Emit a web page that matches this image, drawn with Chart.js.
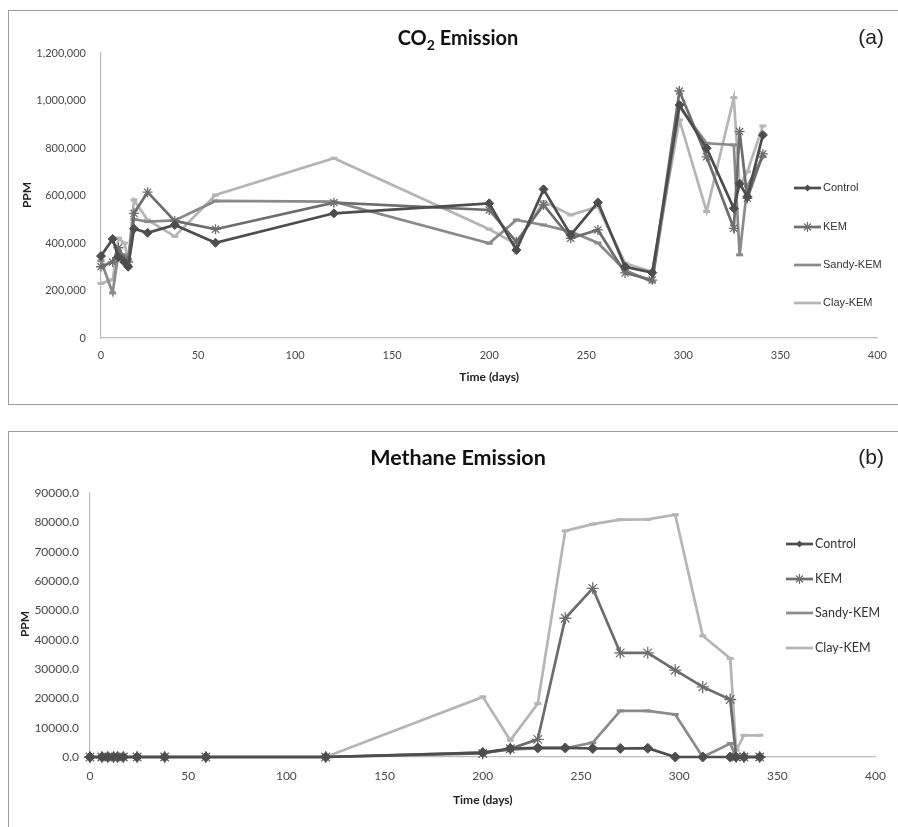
<!DOCTYPE html>
<html lang="en">
<head>
<meta charset="UTF-8">
<title>CO2 and Methane Emission</title>
<script src="https://cdn.jsdelivr.net/npm/chart.js"></script>
<style>
  body { margin: 0; background: #fff; width: 898px; height: 827px; position: relative; overflow: hidden; }
  .frame { position: absolute; border: 1px solid #9c9c9c; }
  canvas { position: absolute; left: 0; }
</style>
</head>
<body>
<div class="frame" style="left:8px; top:10px; width:900px; height:393px;"></div>
<div class="frame" style="left:8px; top:431px; width:900px; height:420px;"></div>
<canvas id="co2Chart" width="898" height="415" style="top:0"></canvas>
<canvas id="ch4Chart" width="898" height="412" style="top:415px"></canvas>

<script>
// sampling days (shared by both panels)
var days = [0, 6, 9, 12, 14, 17, 24, 38, 59, 120, 200, 214, 228, 242, 256, 270, 284, 298, 312, 326, 329, 333, 341]
var seriesNames = ["Control", "KEM", "Sandy-KEM", "Clay-KEM"]

// (a) CO2, ppm
var co2Control = [345000, 417000, 340000, 320000, 300000, 460000, 443000, 476000, 401000, 525000, 567000, 370000, 626000, 434000, 571000, 300000, 275000, 981000, 799000, 546000, 650000, 595000, 855000]
var co2KEM     = [300000, 320000, 380000, 330000, 320000, 525000, 614000, 493000, 458000, 570000, 539000, 405000, 560000, 420000, 455000, 274000, 244000, 1040000, 763000, 462000, 869000, 588000, 775000]
var co2Sandy   = [325000, 190000, 360000, 350000, 330000, 500000, 490000, 495000, 577000, 574000, 399000, 497000, 476000, 448000, 400000, 285000, 237000, 975000, 820000, 813000, 350000, 640000, 763000]
var co2Clay    = [230000, 245000, 420000, 400000, 330000, 581000, 497000, 428000, 602000, 757000, 458000, 395000, 575000, 518000, 553000, 315000, 279000, 918000, 533000, 1012000, 640000, 700000, 893000]

// (b) methane, ppm
var ch4Control = [0, 0, 0, 0, 0, 0, 0, 0, 0, 0, 1500, 2900, 3100, 3100, 2900, 2900, 3000, 0, 0, 0, 0, 0, 0]
var ch4KEM     = [0, 0, 0, 0, 0, 0, 0, 0, 0, 0, 1200, 2800, 6000, 47300, 57500, 35500, 35500, 29600, 23900, 19600, 0, 0, 0]
var ch4Sandy   = [0, 0, 0, 0, 0, 0, 0, 0, 0, 0, 1500, 2500, 3000, 3000, 4900, 15700, 15700, 14500, 0, 4600, 0, 0, 0]
var ch4Clay    = [0, 0, 0, 0, 0, 0, 0, 0, 0, 0, 20500, 5700, 18200, 77100, 79400, 80900, 81000, 82600, 41300, 33600, 2300, 7400, 7400]

var co2Ticks = [0, 200000, 400000, 600000, 800000, 1000000, 1200000]
var ch4Ticks = [0, 10000, 20000, 30000, 40000, 50000, 60000, 70000, 80000, 90000]
var dayTicks = [0, 50, 100, 150, 200, 250, 300, 350, 400]

var colors = ["#4d4d4d", "#6d6d6d", "#8a8a8a", "#b5b5b5"]
var styles = ["rectRot", "star", "line", "line"]

function toPoints(vals) {
  return days.map((d, i) => ({x: d, y: vals[i]}))
}

function makeSets(lists, big) {
  return lists.map((vals, i) => ({
    label: seriesNames[i],
    data: toPoints(vals),
    borderColor: colors[i],
    backgroundColor: colors[i],
    borderWidth: 2.7,
    pointStyle: styles[i],
    pointRadius: i == 0 ? (big ? 5 : 4.5) : i == 1 ? (big ? 6 : 5) : 3.5,
    pointBorderWidth: i == 1 ? 1.3 : i >= 2 ? 3 : 1,
    pointBorderColor: colors[i],
    pointBackgroundColor: colors[i],
    tension: 0,
    clip: false
  }))
}

// little marker painter for the hand drawn legend
function marker(ctx, style, x, y, r, color) {
  ctx.save()
  ctx.strokeStyle = color
  ctx.fillStyle = color
  if (style == "rectRot") {
    ctx.beginPath()
    ctx.moveTo(x, y - r); ctx.lineTo(x + r, y); ctx.lineTo(x, y + r); ctx.lineTo(x - r, y)
    ctx.closePath(); ctx.fill()
  } else if (style == "star") {
    ctx.lineWidth = 1.2
    ctx.beginPath()
    for (var k = 0; k < 4; k++) {
      var a = k * Math.PI / 4
      ctx.moveTo(x - r * Math.cos(a), y - r * Math.sin(a))
      ctx.lineTo(x + r * Math.cos(a), y + r * Math.sin(a))
    }
    ctx.stroke()
  }
  ctx.restore()
}

function decor(cfg) {
  return {
    id: "decor",
    afterDraw(chart) {
      var ctx = chart.ctx
      var area = chart.chartArea
      ctx.save()
      ctx.fillStyle = "#111"
      ctx.textBaseline = "alphabetic"
      // title (optionally with a subscript)
      var big = "bold " + cfg.titleSize + "px Lato"
      var small = "bold " + Math.round(cfg.titleSize * 0.7) + "px Lato"
      var w = 0
      cfg.title.forEach(p => { ctx.font = p.sub ? small : big; w += ctx.measureText(p.t).width })
      var tx = cfg.titleX - w / 2
      cfg.title.forEach(p => {
        ctx.font = p.sub ? small : big
        ctx.textAlign = "left"
        ctx.fillText(p.t, tx, cfg.titleY + (p.sub ? 5 : 0))
        tx += ctx.measureText(p.t).width
      })
      // panel letter
      ctx.font = "21px 'Liberation Sans'"
      ctx.textAlign = "right"
      ctx.fillStyle = "#222"
      ctx.fillText(cfg.letter, 884, cfg.letterY)
      // axis titles
      ctx.font = "bold 12px Lato"
      ctx.textAlign = "center"
      ctx.textBaseline = "middle"
      ctx.fillText("Time (days)", (area.left + area.right) / 2, cfg.xTitleY)
      ctx.save()
      ctx.translate(cfg.yTitleX, cfg.yTitleY)
      ctx.rotate(-Math.PI / 2)
      ctx.fillText("PPM", 0, 0)
      ctx.restore()
      // legend
      chart.data.datasets.forEach((ds, i) => {
        var y = cfg.legY[i]
        ctx.strokeStyle = ds.borderColor
        ctx.lineWidth = 2.7
        ctx.beginPath()
        ctx.moveTo(cfg.legX0, y)
        ctx.lineTo(cfg.legX1, y)
        ctx.stroke()
        marker(ctx, ds.pointStyle, (cfg.legX0 + cfg.legX1) / 2, y, i == 0 ? 3.5 : 5, ds.borderColor)
        ctx.fillStyle = "#333"
        ctx.font = cfg.legFont
        ctx.textAlign = "left"
        ctx.textBaseline = "middle"
        ctx.fillText(ds.label, cfg.legX1 + 2, y)
      })
      ctx.restore()
    }
  }
}

function axisOpts(extra) {
  return Object.assign({
    grid: {display: false, drawTicks: false},
    border: {display: true, color: "#bdbdbd", width: 1.2}
  }, extra)
}

// (a) CO2 emission
new Chart("co2Chart", {
  type: "line",
  data: {datasets: makeSets([co2Control, co2KEM, co2Sandy, co2Clay], false)},
  options: {
    responsive: false,
    animation: false,
    layout: {padding: {left: 0, top: 53, right: 13, bottom: 0}},
    plugins: {legend: {display: false}, tooltip: {enabled: false}},
    scales: {
      x: axisOpts({
        type: "linear", min: 0, max: 400,
        afterBuildTicks: s => { s.ticks = dayTicks.map(v => ({value: v})) },
        ticks: {padding: 11, color: "#4a4a4a", font: {family: "Lato", size: 11}},
        afterFit: s => { s.height = 77 }
      }),
      y: axisOpts({
        min: 0, max: 1200000,
        afterBuildTicks: s => { s.ticks = co2Ticks.map(v => ({value: v})) },
        ticks: {padding: 15, color: "#4a4a4a", font: {family: "Lato", size: 11},
          callback: v => v.toLocaleString("en-US")},
        afterFit: s => { s.width = 101 }
      })
    }
  },
  plugins: [decor({
    title: [{t: "CO"}, {t: "2", sub: true}, {t: " Emission"}],
    titleSize: 20, titleX: 458, titleY: 45,
    letter: "(a)", letterY: 44,
    xTitleY: 377, yTitleX: 27, yTitleY: 195,
    legX0: 794, legX1: 821, legY: [188, 227, 265, 303],
    legFont: "11px 'Liberation Sans'"
  })]
})

// (b) methane emission
new Chart("ch4Chart", {
  type: "line",
  data: {datasets: makeSets([ch4Control, ch4KEM, ch4Sandy, ch4Clay], true)},
  options: {
    responsive: false,
    animation: false,
    layout: {padding: {left: 0, top: 78, right: 16, bottom: 0}},
    plugins: {legend: {display: false}, tooltip: {enabled: false}},
    scales: {
      x: axisOpts({
        type: "linear", min: 0, max: 400,
        afterBuildTicks: s => { s.ticks = dayTicks.map(v => ({value: v})) },
        ticks: {padding: 12, color: "#4a4a4a", font: {family: "Lato", size: 12}},
        afterFit: s => { s.height = 70 }
      }),
      y: axisOpts({
        min: 0, max: 90000,
        afterBuildTicks: s => { s.ticks = ch4Ticks.map(v => ({value: v})) },
        ticks: {padding: 11, color: "#4a4a4a", font: {family: "Lato", size: 12},
          callback: v => v.toFixed(1)},
        afterFit: s => { s.width = 90 }
      })
    }
  },
  plugins: [decor({
    title: [{t: "Methane Emission"}],
    titleSize: 21.5, titleX: 458, titleY: 50,
    letter: "(b)", letterY: 49,
    xTitleY: 385, yTitleX: 25, yTitleY: 209,
    legX0: 786, legX1: 813, legY: [129, 164, 198, 233],
    legFont: "12.5px Lato"
  })]
})
</script>
</body>
</html>
